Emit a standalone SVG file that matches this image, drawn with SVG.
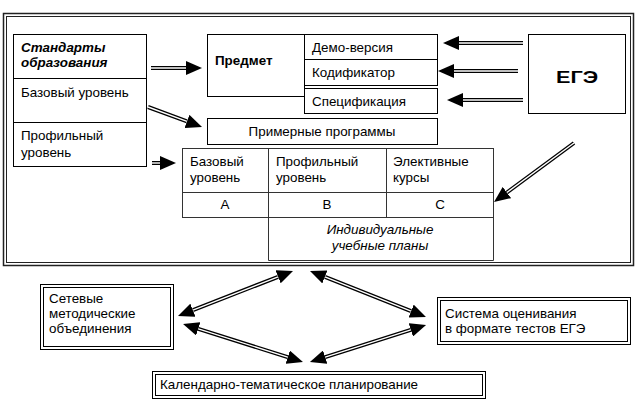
<svg xmlns="http://www.w3.org/2000/svg" width="639" height="402" viewBox="0 0 639 402">
<defs>
<style>
text{font-family:"Liberation Sans",Arial,sans-serif;font-size:13.4px;fill:#000}
.b{font-weight:bold}
.i{font-style:italic}
.bi{font-weight:bold;font-style:italic}
.m{text-anchor:middle}
.box{fill:#fff;stroke:#000;stroke-width:1}
.tb{fill:none;stroke:#333;stroke-width:1}
.frame{fill:none;stroke:#222}
.sh{fill:none;stroke:#000;stroke-width:4}
.sw{fill:none;stroke:#fff;stroke-width:1.4}
</style>
<marker id="ah" markerUnits="userSpaceOnUse" markerWidth="16" markerHeight="14" viewBox="0 0 16 14" refX="0" refY="7" orient="auto-start-reverse">
<path d="M0,0 L16,7 L0,14 z" fill="#000"/>
</marker>
</defs>
<rect width="639" height="402" fill="#fff"/>
<g id="frame">
<rect class="frame" x="3.5" y="13.5" width="630" height="252" stroke-width="1.5"/>
<rect class="frame" x="6.5" y="16.5" width="624" height="246" stroke-width="1"/>
</g>
<g id="standards">
<rect class="box" x="13.5" y="34.5" width="133" height="132"/>
<line x1="13.5" y1="78.5" x2="146.5" y2="78.5" stroke="#000"/>
<line x1="13.5" y1="122.5" x2="146.5" y2="122.5" stroke="#000"/>
<text class="bi" x="21" y="52">Стандарты</text>
<text class="bi" x="21" y="67">образования</text>
<text x="21" y="97">Базовый уровень</text>
<text x="21" y="140">Профильный</text>
<text x="21" y="157">уровень</text>
</g>
<g id="subject">
<rect class="box" x="207.5" y="34.5" width="97" height="62"/>
<text class="b" x="215" y="65">Предмет</text>
</g>
<g id="demo">
<rect class="box" x="304.5" y="34.5" width="133" height="25"/>
<text x="312" y="52">Демо-версия</text>
</g>
<g id="codifier">
<rect class="box" x="304.5" y="59.5" width="133" height="26"/>
<text x="312" y="77">Кодификатор</text>
</g>
<g id="spec">
<rect class="box" x="304.5" y="88.5" width="133" height="25"/>
<text x="312" y="106">Спецификация</text>
</g>
<g id="ege">
<rect class="box" x="528.5" y="34.5" width="97" height="79"/>
<text class="b" x="556" y="83" style="font-size:16px" textLength="42" lengthAdjust="spacingAndGlyphs">ЕГЭ</text>
</g>
<g id="programs">
<rect class="box" x="207.5" y="118.5" width="230" height="26"/>
<text class="m" x="322" y="136">Примерные программы</text>
</g>
<g id="table">
<rect class="tb" x="182.5" y="148.5" width="311" height="69"/>
<line class="tb" x1="182.5" y1="192.5" x2="493.5" y2="192.5"/>
<line class="tb" x1="268.5" y1="148.5" x2="268.5" y2="260.5"/>
<line class="tb" x1="386.5" y1="148.5" x2="386.5" y2="217.5"/>
<polyline class="tb" points="268.5,260.5 493.5,260.5 493.5,217.5"/>
<text x="190" y="166">Базовый</text>
<text x="190" y="182">уровень</text>
<text x="276" y="166">Профильный</text>
<text x="276" y="182">уровень</text>
<text x="393" y="166">Элективные</text>
<text x="393" y="182">курсы</text>
<text class="m" x="225" y="209">A</text>
<text class="m" x="327" y="209">B</text>
<text class="m" x="440" y="209">C</text>
<text class="i m" x="380" y="234">Индивидуальные</text>
<text class="i m" x="380" y="250">учебные планы</text>
</g>
<g id="networks">
<rect class="box" x="40.5" y="284.5" width="133" height="65"/>
<rect class="box" x="43.5" y="287.5" width="127" height="59"/>
<text x="49" y="303">Сетевые</text>
<text x="49" y="318">методические</text>
<text x="49" y="333">объединения</text>
</g>
<g id="assessment">
<rect class="box" x="437.5" y="297.5" width="193" height="47"/>
<rect class="box" x="440.5" y="300.5" width="187" height="41"/>
<text x="445" y="318">Система оценивания</text>
<text x="445" y="333">в формате тестов ЕГЭ</text>
</g>
<g id="calendar">
<rect class="box" x="152.5" y="371.5" width="333" height="27"/>
<rect class="box" x="155.5" y="374.5" width="327" height="21"/>
<text x="160" y="389">Календарно-тематическое планирование</text>
</g>
<g id="connectors">
<path class="sh" d="M151,68 H186" marker-end="url(#ah)"/>
<path class="sw" d="M151,68 H186"/>
<path class="sh" d="M148,107 L187,121.4" marker-end="url(#ah)"/>
<path class="sw" d="M148,107 L187,121.4"/>
<path class="sh" d="M152,163 H160" marker-end="url(#ah)"/>
<path class="sw" d="M152,163 H160"/>
<path class="sh" d="M523,43 H459" marker-end="url(#ah)"/>
<path class="sw" d="M523,43 H459"/>
<path class="sh" d="M518,71 H454" marker-end="url(#ah)"/>
<path class="sw" d="M518,71 H454"/>
<path class="sh" d="M523,100 H463" marker-end="url(#ah)"/>
<path class="sw" d="M523,100 H463"/>
<path class="sh" d="M574,143 L506.9,192.5" marker-end="url(#ah)"/>
<path class="sw" d="M574,143 L506.9,192.5"/>
<path class="sh" d="M192.9,310.2 L278.1,276.8" marker-start="url(#ah)" marker-end="url(#ah)"/>
<path class="sw" d="M192.9,310.2 L278.1,276.8"/>
<path class="sh" d="M198.3,328.8 L287.7,357.2" marker-start="url(#ah)" marker-end="url(#ah)"/>
<path class="sw" d="M198.3,328.8 L287.7,357.2"/>
<path class="sh" d="M324.9,276.9 L411.1,311.1" marker-start="url(#ah)" marker-end="url(#ah)"/>
<path class="sw" d="M324.9,276.9 L411.1,311.1"/>
<path class="sh" d="M410.8,329.9 L325.2,357.1" marker-start="url(#ah)" marker-end="url(#ah)"/>
<path class="sw" d="M410.8,329.9 L325.2,357.1"/>
</g>
</svg>
